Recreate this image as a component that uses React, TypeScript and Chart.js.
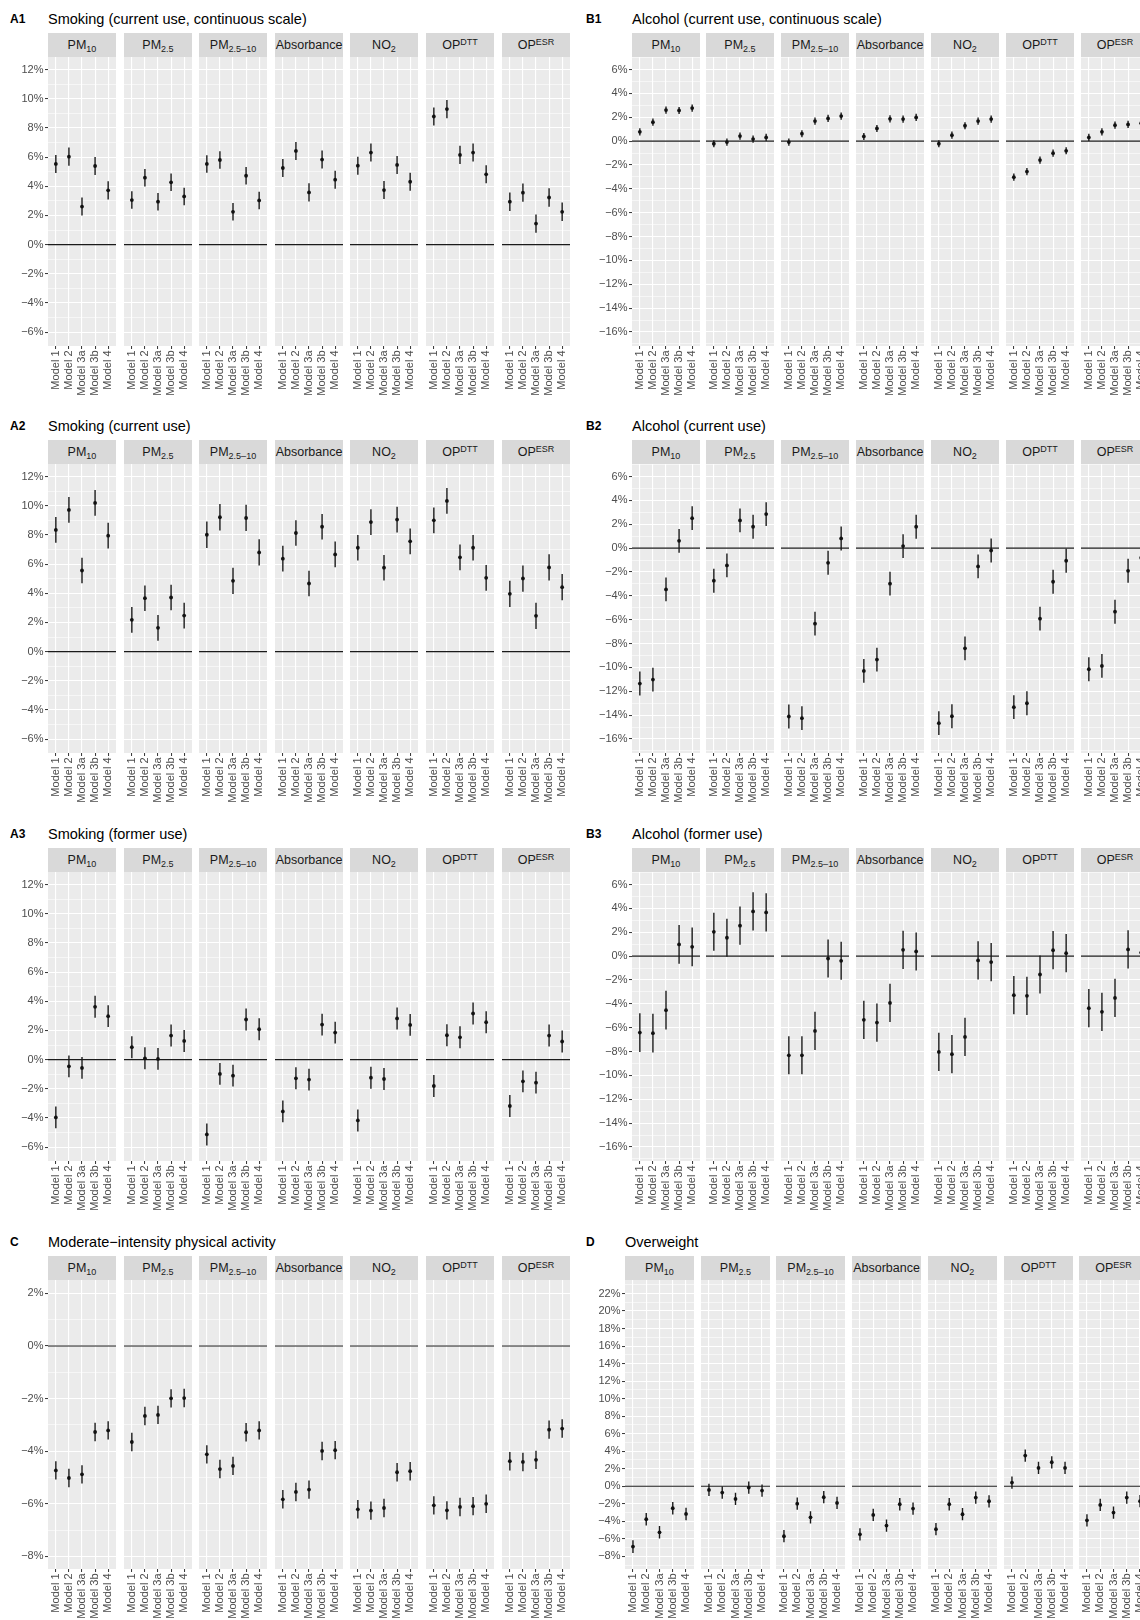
import React, { useEffect, useRef } from "react";
import { Chart, registerables } from "chart.js";

Chart.register(...registerables);

const FONT = '"Liberation Sans", Arial, Helvetica, sans-serif';
Chart.defaults.font.family = FONT;

// ---------------- data ----------------
const MODELS = ["Model 1", "Model 2", "Model 3a", "Model 3b", "Model 4"];
const POLLUTANTS = ["PM10", "PM2.5", "PM2.5-10", "Absorbance", "NO2", "OPDTT", "OPESR"];

const TICKS_A = [-6, -4, -2, 0, 2, 4, 6, 8, 10, 12];
const TICKS_B = [-16, -14, -12, -10, -8, -6, -4, -2, 0, 2, 4, 6];
const TICKS_C = [-8, -6, -4, -2, 0, 2];
const TICKS_D = [-8, -6, -4, -2, 0, 2, 4, 6, 8, 10, 12, 14, 16, 18, 20, 22];

// estimates (% change), one row per pollutant, one value per model
const A1_EST = [
  [5.53, 6.03, 2.61, 5.39, 3.72],
  [3.05, 4.59, 2.94, 4.27, 3.3],
  [5.53, 5.8, 2.25, 4.72, 3.03],
  [5.25, 6.42, 3.58, 5.83, 4.45],
  [5.41, 6.31, 3.74, 5.46, 4.31],
  [8.78, 9.29, 6.15, 6.31, 4.82],
  [2.94, 3.56, 1.44, 3.23, 2.25],
];
const A1_CI = [0.62, 0.6, 0.6, 0.62, 0.62, 0.62, 0.63];

const A2_EST = [
  [8.34, 9.71, 5.56, 10.19, 7.95],
  [2.18, 3.66, 1.63, 3.71, 2.47],
  [8.01, 9.21, 4.85, 9.16, 6.8],
  [6.37, 8.13, 4.67, 8.56, 6.66],
  [7.12, 8.88, 5.75, 9.05, 7.56],
  [9.0, 10.33, 6.46, 7.12, 5.06],
  [3.96, 5.01, 2.45, 5.77, 4.42],
];
const A2_CI = [0.88, 0.88, 0.9, 0.88, 0.88, 0.88, 0.9];

const A3_EST = [
  [-3.96, -0.46, -0.57, 3.62, 2.98],
  [0.85, 0.09, 0.05, 1.65, 1.28],
  [-5.13, -0.98, -1.1, 2.75, 2.08],
  [-3.55, -1.28, -1.37, 2.4, 1.85],
  [-4.17, -1.24, -1.33, 2.82, 2.38],
  [-1.81, 1.67, 1.53, 3.16, 2.56],
  [-3.18, -1.49, -1.58, 1.65, 1.24],
];
const A3_CI = [0.75, 0.75, 0.75, 0.75, 0.75, 0.75, 0.75];

const B1_EST = [
  [0.78, 1.59, 2.6, 2.57, 2.77],
  [-0.22, -0.08, 0.42, 0.17, 0.31],
  [-0.08, 0.62, 1.68, 1.9, 2.1],
  [0.39, 1.06, 1.87, 1.85, 1.99],
  [-0.22, 0.5, 1.29, 1.68, 1.85],
  [-3.02, -2.55, -1.59, -1.01, -0.81],
  [0.31, 0.78, 1.34, 1.4, 1.5],
];
const B1_CI = [0.3, 0.3, 0.3, 0.3, 0.3, 0.3, 0.3];

const B2_EST = [
  [-11.35, -11.02, -3.46, 0.61, 2.51],
  [-2.73, -1.45, 2.32, 1.79, 2.85],
  [-14.11, -14.25, -6.33, -1.23, 0.81],
  [-10.29, -9.34, -2.98, 0.17, 1.79],
  [-14.67, -14.09, -8.4, -1.53, -0.2],
  [-13.33, -13.0, -5.91, -2.82, -1.06],
  [-10.15, -9.87, -5.33, -1.9, -0.8],
];
const B2_CI = [1.0, 1.0, 1.0, 1.0, 1.0, 1.0, 1.0];

const B3_EST = [
  [-6.41, -6.46, -4.53, 0.98, 0.78],
  [2.04, 1.54, 2.55, 3.75, 3.66],
  [-8.31, -8.31, -6.27, -0.2, -0.39],
  [-5.34, -5.57, -3.92, 0.53, 0.39],
  [-8.03, -8.22, -6.77, -0.36, -0.5],
  [-3.27, -3.33, -1.54, 0.5, 0.25],
  [-4.36, -4.67, -3.5, 0.56, 0.3],
];
const B3_CI = [1.62, 1.6, 1.6, 1.6, 1.6, 1.6, 1.6];

const C_EST = [
  [-4.73, -5.02, -4.88, -3.27, -3.21],
  [-3.65, -2.66, -2.62, -1.99, -1.98],
  [-4.12, -4.68, -4.56, -3.28, -3.21],
  [-5.83, -5.55, -5.46, -3.99, -3.96],
  [-6.21, -6.26, -6.16, -4.8, -4.76],
  [-6.06, -6.25, -6.12, -6.09, -6.0],
  [-4.38, -4.41, -4.33, -3.18, -3.14],
];
const C_CI = [0.35, 0.35, 0.35, 0.35, 0.35, 0.35, 0.35];

const D_EST = [
  [-6.88, -3.76, -5.25, -2.51, -3.16],
  [-0.42, -0.72, -1.44, -0.15, -0.49],
  [-5.7, -1.98, -3.54, -1.25, -1.9],
  [-5.48, -3.27, -4.49, -2.05, -2.55],
  [-4.9, -2.05, -3.19, -1.29, -1.71],
  [0.42, 3.5, 2.09, 2.74, 2.09],
  [-3.88, -2.13, -3.0, -1.29, -1.7],
];
const D_CI = [0.72, 0.7, 0.7, 0.7, 0.7, 0.7, 0.7];

// ---------------- layout ----------------
type Panel = {
  id: string;
  title: string;
  est: number[][];
  ci: number[];
  majors: number[];
  yMin: number;
  yMax: number;
  top: number;
  labelX: number;
  xp: number;
  fw: number;
  pitch: number;
};

const LEFT = { labelX: 10, xp: 48, fw: 68.4, pitch: 75.6 };
const RIGHT_B = { labelX: 586, xp: 631.5, fw: 67.9, pitch: 74.9 };
const RIGHT_D = { labelX: 586, xp: 625, fw: 69, pitch: 75.7 };
const A_RANGE = { yMin: -6.95, yMax: 12.86 };
const B_RANGE = { yMin: -17.17, yMax: 7.05 };

const PANELS: Panel[] = [
  { id: "A1", title: "Smoking (current use, continuous scale)", est: A1_EST, ci: A1_CI, majors: TICKS_A, ...A_RANGE, top: 0, ...LEFT },
  { id: "B1", title: "Alcohol (current use, continuous scale)", est: B1_EST, ci: B1_CI, majors: TICKS_B, ...B_RANGE, top: 0, ...RIGHT_B },
  { id: "A2", title: "Smoking (current use)", est: A2_EST, ci: A2_CI, majors: TICKS_A, ...A_RANGE, top: 407, ...LEFT },
  { id: "B2", title: "Alcohol (current use)", est: B2_EST, ci: B2_CI, majors: TICKS_B, ...B_RANGE, top: 407, ...RIGHT_B },
  { id: "A3", title: "Smoking (former use)", est: A3_EST, ci: A3_CI, majors: TICKS_A, ...A_RANGE, top: 815, ...LEFT },
  { id: "B3", title: "Alcohol (former use)", est: B3_EST, ci: B3_CI, majors: TICKS_B, ...B_RANGE, top: 815, ...RIGHT_B },
  { id: "C", title: "Moderate\u2212intensity physical activity", est: C_EST, ci: C_CI, majors: TICKS_C, yMin: -8.48, yMax: 2.51, top: 1223, ...LEFT },
  { id: "D", title: "Overweight", est: D_EST, ci: D_CI, majors: TICKS_D, yMin: -9.44, yMax: 23.54, top: 1223, ...RIGHT_D },
];

const STRIP_TOP = 33;
const STRIP_H = 24;
const PLOT_TOP = 57;
const PLOT_H = 289;
const X_AXIS_H = 56;
const Y_AXIS_W = 48;

const SUB: React.CSSProperties = { fontSize: 9, position: "relative", top: 3 };
const SUP: React.CSSProperties = { fontSize: 9, position: "relative", top: -4 };

function stripLabel(p: string) {
  switch (p) {
    case "PM10":
      return (<>PM<span style={SUB}>{"10"}</span></>);
    case "PM2.5":
      return (<>PM<span style={SUB}>{"2.5"}</span></>);
    case "PM2.5-10":
      return (<>PM<span style={SUB}>{"2.5\u201310"}</span></>);
    case "NO2":
      return (<>NO<span style={SUB}>{"2"}</span></>);
    case "OPDTT":
      return (<>OP<span style={SUP}>{"DTT"}</span></>);
    case "OPESR":
      return (<>OP<span style={SUP}>{"ESR"}</span></>);
    default:
      return <>{p}</>;
  }
}

const fmtPct = (v: number) => (v < 0 ? "\u2212" + Math.abs(v) : String(v)) + "%";

const bgPlugin = {
  id: "panelBg",
  beforeDraw(chart: any) {
    const { ctx, chartArea: a } = chart;
    ctx.save();
    ctx.fillStyle = "#EBEBEB";
    ctx.fillRect(a.left, a.top, a.right - a.left, a.bottom - a.top);
    ctx.restore();
  },
};

type FacetProps = {
  est: number[];
  ci: number;
  majors: number[];
  yMin: number;
  yMax: number;
  showY: boolean;
  left: number;
  top: number;
  width: number;
  height: number;
};

function Facet(props: FacetProps) {
  const ref = useRef<HTMLCanvasElement>(null);
  useEffect(() => {
    const { est, ci, majors, yMin, yMax, showY } = props;
    const step = majors[1] - majors[0];
    const minors: number[] = [];
    for (let i = 0; i <= majors.length; i++) {
      const m = i === 0 ? majors[0] - step / 2 : majors[i - 1] + step / 2;
      if (m > yMin && m < yMax) minors.push(m);
    }
    const allTicks = [...majors, ...minors].sort((a, b) => a - b);
    const isMajor = (v: number) => majors.includes(v);

    const bars: { x: number; y: number | null }[] = [];
    est.forEach((v, i) => {
      bars.push({ x: i, y: v - ci }, { x: i, y: v + ci }, { x: i, y: null });
    });
    const pts = est.map((v, i) => ({ x: i, y: v }));
    const zero = [
      { x: -0.6, y: 0 },
      { x: 4.6, y: 0 },
    ];

    const chart = new Chart(ref.current as HTMLCanvasElement, {
      type: "line",
      data: {
        datasets: [
          {
            data: pts,
            showLine: false,
            pointRadius: 1.9,
            pointBackgroundColor: "#111111",
            pointBorderWidth: 0,
            order: 0,
          },
          {
            data: bars,
            borderColor: "#1a1a1a",
            borderWidth: 1.4,
            pointRadius: 0,
            spanGaps: false,
            order: 1,
          },
          {
            data: zero,
            borderColor: "#1a1a1a",
            borderWidth: 1.1,
            pointRadius: 0,
            order: 2,
          },
        ] as any,
      },
      options: {
        responsive: false,
        animation: false,
        events: [],
        devicePixelRatio: 1,
        layout: { padding: 0, autoPadding: false } as any,
        plugins: { legend: { display: false }, tooltip: { enabled: false } },
        scales: {
          x: {
            type: "linear",
            min: -0.6,
            max: 4.6,
            afterBuildTicks: (s: any) => {
              s.ticks = MODELS.map((_, i) => ({ value: i }));
            },
            afterFit: (s: any) => {
              s.height = X_AXIS_H;
              s.paddingLeft = 0;
              s.paddingRight = 0;
            },
            ticks: {
              autoSkip: false,
              minRotation: 90,
              maxRotation: 90,
              padding: 1.5,
              color: "#4D4D4D",
              font: { size: 11, family: FONT },
              callback: (v: any) => MODELS[Math.round(Number(v))],
            },
            grid: {
              color: "#FFFFFF",
              lineWidth: 1.1,
              drawTicks: true,
              tickLength: 3,
              tickColor: "#333333",
              tickWidth: 1,
            },
            border: { display: false },
          },
          y: {
            type: "linear",
            min: yMin,
            max: yMax,
            afterBuildTicks: (s: any) => {
              s.ticks = allTicks.map((v) => ({ value: v }));
            },
            afterFit: (s: any) => {
              s.width = showY ? Y_AXIS_W : 0;
              s.paddingTop = 0;
              s.paddingBottom = 0;
            },
            ticks: {
              display: showY,
              autoSkip: false,
              padding: 1.5,
              color: "#4D4D4D",
              font: { size: 11, family: FONT },
              callback: (v: any) => (isMajor(Number(v)) ? fmtPct(Number(v)) : ""),
            },
            grid: {
              color: "#FFFFFF",
              lineWidth: (ctx: any) => (ctx.tick && isMajor(ctx.tick.value) ? 1.1 : 0.55),
              drawTicks: showY,
              tickLength: 3,
              tickWidth: 1,
              tickColor: (ctx: any) =>
                ctx.tick && isMajor(ctx.tick.value) ? "#333333" : "rgba(0,0,0,0)",
            },
            border: { display: false },
          },
        },
      } as any,
      plugins: [bgPlugin],
    });
    return () => chart.destroy();
  }, []);

  return (
    <canvas
      ref={ref}
      width={props.width}
      height={props.height}
      style={{
        position: "absolute",
        left: props.left,
        top: props.top,
        width: props.width,
        height: props.height,
      }}
    />
  );
}

function PanelView({ p }: { p: Panel }) {
  return (
    <>
      <div
        style={{
          position: "absolute",
          left: p.labelX,
          top: p.top + 11,
          fontSize: 12,
          fontWeight: "bold",
          lineHeight: "16px",
          color: "#000",
          fontFamily: FONT,
        }}
      >
        {p.id}
      </div>
      <div
        style={{
          position: "absolute",
          left: Math.round(p.xp),
          top: p.top + 10,
          fontSize: 14.5,
          lineHeight: "18px",
          color: "#000",
          whiteSpace: "nowrap",
          fontFamily: FONT,
        }}
      >
        {p.title}
      </div>
      {POLLUTANTS.map((pol, j) => {
        const fx = Math.round(p.xp + j * p.pitch);
        const fw = Math.round(p.fw);
        return (
          <React.Fragment key={pol}>
            <div
              style={{
                position: "absolute",
                left: fx,
                top: p.top + STRIP_TOP,
                width: fw,
                height: STRIP_H,
                background: "#D9D9D9",
                display: "flex",
                alignItems: "center",
                justifyContent: "center",
                fontSize: 12.5,
                color: "#1A1A1A",
                whiteSpace: "nowrap",
                fontFamily: FONT,
                lineHeight: "14px",
              }}
            >
              <span>{stripLabel(pol)}</span>
            </div>
            <Facet
              est={p.est[j]}
              ci={p.ci[j]}
              majors={p.majors}
              yMin={p.yMin}
              yMax={p.yMax}
              showY={j === 0}
              left={j === 0 ? fx - Y_AXIS_W : fx}
              top={p.top + PLOT_TOP}
              width={j === 0 ? fw + Y_AXIS_W : fw}
              height={PLOT_H + X_AXIS_H}
            />
          </React.Fragment>
        );
      })}
    </>
  );
}

export default function App() {
  return (
    <div
      style={{
        position: "absolute",
        left: 0,
        top: 0,
        width: 1140,
        height: 1620,
        overflow: "hidden",
        background: "#FFFFFF",
        fontFamily: FONT,
      }}
    >
      {PANELS.map((p) => (
        <PanelView key={p.id} p={p} />
      ))}
    </div>
  );
}
